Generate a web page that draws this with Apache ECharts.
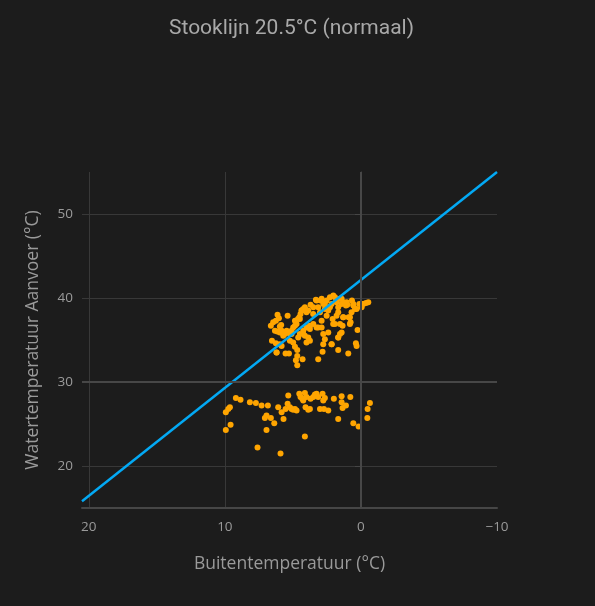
<!DOCTYPE html>
<html>
<head>
<meta charset="utf-8">
<script src="https://cdn.jsdelivr.net/npm/echarts@6/dist/echarts.min.js"></script>
<style>
  html, body { margin: 0; padding: 0; background: #1c1c1c; }
  #chart { width: 595px; height: 606px; }
</style>
</head>
<body>
<div id="chart"></div>
<script>
// outdoor temperature (x) vs supply water temperature (y)
var upperX = [6.62, 6.45, 6.25, 6.13, 6.03, 5.96, 5.86, 6.32, 6.15, 5.96, 5.76, 5.59, 5.39, 5.22, 5.10, 4.98, 4.85, 4.73, 4.63, 4.53,
	4.44, 4.36, 4.24, 4.12, 4.00, 3.87, 3.70, 3.50, 3.31, 3.14, 2.97, 2.77, 2.65, 2.52, 2.40, 2.28, 2.16, 2.03, 1.91, 1.79,
	1.67, 1.54, 1.42, 1.30, 1.10, 1.00, 0.81, 0.76, 0.66, 0.56, 0.44, 0.25, 0.12, -0.05, -0.17, -0.37, -0.54, 6.54, 6.25, 6.20,
	5.83, 5.54, 5.29, 4.98, 4.85, 4.68, 4.68, 4.78, 4.68, 4.29, 4.00, 3.87, 3.75, 4.12, 4.49, 4.24, 4.00, 3.75, 3.50, 3.14,
	2.89, 2.77, 2.65, 2.77, 2.82, 3.14, 2.16, 1.67, 1.67, 1.54, 1.42, 1.35, 1.91, 2.08, 1.79, 1.67, 1.30, 0.93, 0.91, 0.32, 0.37,
	5.83, 5.46, 4.85, 4.49, 4.36, 4.12, 3.26, 2.89, 2.65, 2.28, 1.79, 1.42, 1.05, 0.56, 0.32, -0.05, 0.69, 1.30, 1.54, 2.04,
	2.52, 2.89, 3.26, 3.75, 4.24, 4.61, 5.22, 2.15, 1.67, 0.81, 2.40, 3.01, 3.51, 5.10, 5.71, 5.96, 6.20];
var upperY = [36.7, 37.1, 37.3, 38.0, 37.6, 36.6, 36.8, 36.1, 36.0, 35.9, 35.8, 35.7, 37.9, 35.7, 36.1, 36.5, 36.7, 36.9, 37.5, 37.7,
	38.1, 38.5, 38.7, 38.9, 38.3, 38.5, 39.2, 38.9, 39.8, 38.9, 39.7, 39.3, 38.7, 39.7, 38.5, 38.9, 39.3, 40.3, 40.1, 39.7,
	38.9, 39.9, 39.3, 39.5, 39.1, 39.2, 37.7, 37.1, 39.7, 39.3, 38.7, 36.2, 39.3, 38.9, 39.3, 39.4, 39.5, 34.9, 34.6, 33.5,
	34.3, 33.4, 33.4, 34.7, 34.2, 33.8, 33.1, 32.6, 32.0, 32.7, 34.7, 35.3, 34.9, 35.5, 35.7, 36.1, 36.5, 36.7, 36.9, 36.5,
	36.5, 35.7, 35.1, 34.5, 33.6, 32.7, 34.5, 33.8, 35.3, 35.7, 35.9, 36.7, 36.9, 37.5, 37.9, 38.3, 37.7, 33.4, 37.7, 34.3, 34.6,
	36.1, 36.1, 37.3, 37.5, 38.5, 38.7, 39.7, 39.9, 39.3, 40.1, 39.5, 39.9, 39.5, 39.1, 38.7, 39.3, 38.3, 37.7, 36.9, 36.9,
	37.9, 37.3, 36.5, 36.3, 35.7, 35.3, 34.9, 34.5, 35.3, 36.9, 35.9, 38.3, 38.1, 35.7, 35.5, 34.5, 33.5];
var lowerX = [9.93, 9.93, 9.75, 9.63, 9.58, 9.19, 8.85, 8.16, 7.72, 7.30, 7.06, 6.94, 6.94, 6.84, 6.62, 6.37, 6.08, 5.83, 5.69, 5.54,
	5.39, 5.34, 5.22, 5.10, 4.98, 4.85, 4.73, 4.53, 4.44, 4.31, 4.24, 4.12, 4.07, 4.00, 3.87, 3.75, 3.70, 3.50, 3.38, 3.26,
	3.14, 3.01, 2.82, 2.77, 2.72, 2.65, 2.40, 1.99, 1.67, 1.42, 1.42, 1.35, 1.10, 0.78, 0.56, 0.17, -0.47, -0.49, -0.66, 4.12,
	7.60, 5.91];
var lowerY = [24.3, 26.4, 26.8, 27.0, 24.9, 28.1, 27.9, 27.6, 27.5, 27.2, 25.7, 26.0, 24.3, 27.2, 25.7, 25.1, 27.0, 26.4, 25.6, 26.8,
	27.4, 28.4, 27.0, 26.8, 26.7, 26.8, 26.6, 28.6, 28.2, 28.0, 27.8, 28.7, 27.0, 28.2, 26.7, 26.8, 28.0, 28.2, 28.5, 28.6,
	28.2, 26.8, 28.6, 27.8, 26.8, 28.1, 26.6, 28.0, 25.6, 28.3, 27.6, 26.9, 27.2, 28.2, 25.1, 24.7, 25.7, 26.8, 27.5, 23.5,
	22.2, 21.5];

// heating curve end points
var curveX = [20.5, -10];
var curveY = [15.8, 55];

var xTicks = [-10, 0, 10, 20];
var yTicks = [20, 30, 40, 50];
// the two heavier grid lines
var zeroX = 0;
var zeroY = 30;

var chart = echarts.init(document.getElementById('chart'));

var points = [];
for (var i = 0; i < upperX.length; i++) {
	points.push([upperX[i], upperY[i]]);
}
for (var j = 0; j < lowerX.length; j++) {
	points.push([lowerX[j], lowerY[j]]);
}
var curve = [];
for (var k = 0; k < curveX.length; k++) {
	curve.push([curveX[k], curveY[k]]);
}

var tickColor = '#9a9a9a';

var option = {
	backgroundColor: '#1c1c1c',
	animation: false,
	title: {
		text: 'Stooklijn 20.5°C (normaal)',
		left: 164,
		top: 13,
		textStyle: { color: '#a8a8a8', fontFamily: 'Roboto', fontWeight: 'normal', fontSize: 21 }
	},
	grid: { left: 82, right: 98, top: 172, bottom: 98 },
	xAxis: {
		type: 'value',
		inverse: true,
		min: -10,
		max: 20.5,
		interval: 10,
		name: 'Buitentemperatuur (°C)',
		nameLocation: 'middle',
		nameGap: 47,
		nameTextStyle: { color: '#9a9a9a', fontFamily: 'Open Sans', fontSize: 17.5 },
		axisLine: { show: true, lineStyle: { color: '#464646', width: 2 } },
		axisTick: { show: false, customValues: xTicks },
		axisLabel: {
			customValues: xTicks,
			margin: 12,
			color: tickColor, fontFamily: 'Open Sans', fontSize: 13.5,
			formatter: function (v) { return String(v).replace('-', '\u2212'); }
		},
		splitLine: {
			show: true,
			showMinLine: false,
			lineStyle: { color: '#383838', width: 1 }
		}
	},
	yAxis: {
		type: 'value',
		min: 15,
		max: 55,
		splitNumber: 4,
		name: 'Watertemperatuur Aanvoer (°C)',
		nameLocation: 'middle',
		nameGap: 40,
		nameTextStyle: { color: '#9a9a9a', fontFamily: 'Open Sans', fontSize: 17.5 },
		axisLine: { show: true, lineStyle: { color: '#464646', width: 1 } },
		axisTick: { show: true, customValues: yTicks, length: 6, lineStyle: { color: '#464646' } },
		axisLabel: {
			customValues: yTicks,
			margin: 9,
			color: tickColor, fontFamily: 'Open Sans', fontSize: 13.5
		},
		splitLine: {
			show: true,
			lineStyle: { color: '#383838', width: 1 }
		}
	},
	series: [
		{
			name: 'raster',
			type: 'scatter',
			data: [],
			z: 1,
			markLine: {
				silent: true,
				symbol: 'none',
				label: { show: false },
				lineStyle: { color: '#474747', width: 2, type: 'solid' },
				data: [{ xAxis: zeroX }, { yAxis: zeroY }]
			}
		},
		{
			name: 'metingen',
			type: 'scatter',
			data: points,
			symbolSize: 6,
			z: 2,
			itemStyle: { color: '#ffa500', opacity: 1 }
		},
		{
			name: 'stooklijn',
			type: 'line',
			data: curve,
			showSymbol: false,
			symbol: 'none',
			lineStyle: { color: '#03a9f4', width: 2.5 },
			z: 3
		}
	]
};

chart.setOption(option);
</script>
</body>
</html>
